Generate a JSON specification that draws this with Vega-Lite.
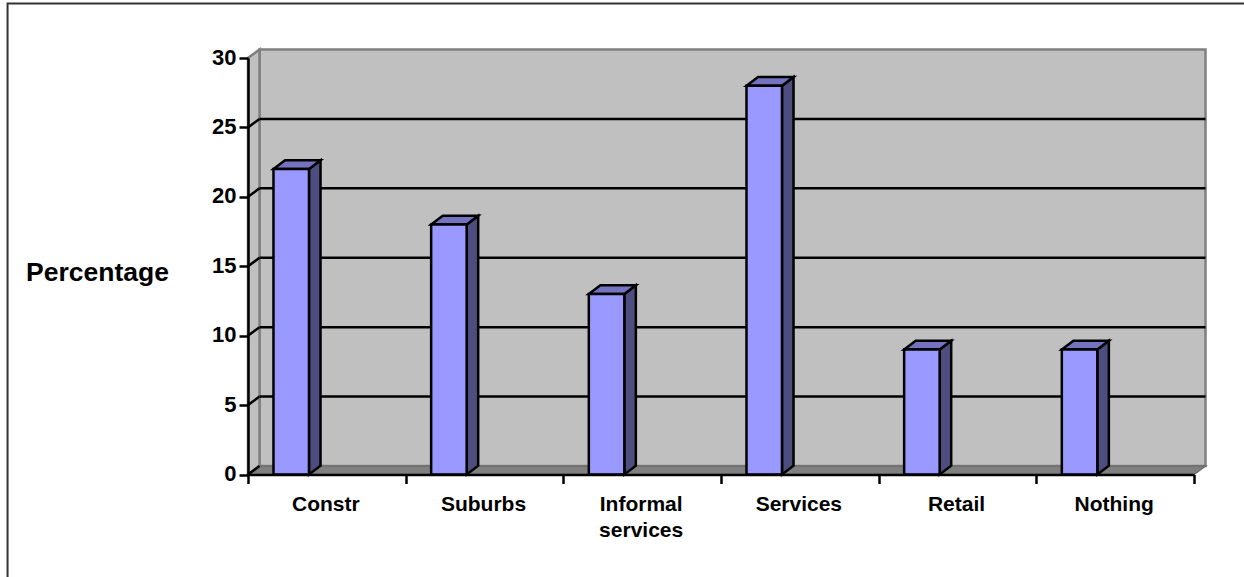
{
"$schema":"https://vega.github.io/schema/vega-lite/v6.json",
"width":946,"height":416.5,
"autosize":"none",
"padding":{"left":248,"top":58,"right":50,"bottom":102.5},
"background":"white",
"config":{"font":"Liberation Sans","view":{"stroke":null}},
"datasets":{
"cats":[{"cat":"Constr","y":22},{"cat":"Suburbs","y":18},{"cat":"Informal services","y":13},{"cat":"Services","y":28},{"cat":"Retail","y":9},{"cat":"Nothing","y":9}],
"side":[
{"cat":"Constr","x":0.387,"y":22,"y2":0},{"cat":"Constr","x":0.46,"y":22.63,"y2":0.63},
{"cat":"Suburbs","x":1.387,"y":18,"y2":0},{"cat":"Suburbs","x":1.46,"y":18.63,"y2":0.63},
{"cat":"Informal services","x":2.387,"y":13,"y2":0},{"cat":"Informal services","x":2.46,"y":13.63,"y2":0.63},
{"cat":"Services","x":3.387,"y":28,"y2":0},{"cat":"Services","x":3.46,"y":28.63,"y2":0.63},
{"cat":"Retail","x":4.387,"y":9,"y2":0},{"cat":"Retail","x":4.46,"y":9.63,"y2":0.63},
{"cat":"Nothing","x":5.387,"y":9,"y2":0},{"cat":"Nothing","x":5.46,"y":9.63,"y2":0.63}],
"top":[
{"cat":"Constr","y":22,"x":0.162,"x2":0.387},{"cat":"Constr","y":22.63,"x":0.235,"x2":0.46},
{"cat":"Suburbs","y":18,"x":1.162,"x2":1.387},{"cat":"Suburbs","y":18.63,"x":1.235,"x2":1.46},
{"cat":"Informal services","y":13,"x":2.162,"x2":2.387},{"cat":"Informal services","y":13.63,"x":2.235,"x2":2.46},
{"cat":"Services","y":28,"x":3.162,"x2":3.387},{"cat":"Services","y":28.63,"x":3.235,"x2":3.46},
{"cat":"Retail","y":9,"x":4.162,"x2":4.387},{"cat":"Retail","y":9.63,"x":4.235,"x2":4.46},
{"cat":"Nothing","y":9,"x":5.162,"x2":5.387},{"cat":"Nothing","y":9.63,"x":5.235,"x2":5.46}],
"grid":[{"v":5,"x":0.073,"x2":6.073,"y":5.61},{"v":10,"x":0.073,"x2":6.073,"y":10.61},{"v":15,"x":0.073,"x2":6.073,"y":15.61},{"v":20,"x":0.073,"x2":6.073,"y":20.61},{"v":25,"x":0.073,"x2":6.073,"y":25.61}],
"diag":[
{"v":0,"x":0,"y":0},{"v":0,"x":0.073,"y":0.61},
{"v":5,"x":0,"y":5},{"v":5,"x":0.073,"y":5.61},
{"v":10,"x":0,"y":10},{"v":10,"x":0.073,"y":10.61},
{"v":15,"x":0,"y":15},{"v":15,"x":0.073,"y":15.61},
{"v":20,"x":0,"y":20},{"v":20,"x":0.073,"y":20.61},
{"v":25,"x":0,"y":25},{"v":25,"x":0.073,"y":25.61}]
},
"resolve":{"scale":{"x":"independent"}},
"encoding":{
"x":{"field":"x","type":"quantitative","axis":null,"scale":{"domain":[0,6],"nice":false,"zero":false}},
"y":{"field":"y","type":"quantitative","scale":{"domain":[0,30],"nice":false},
"axis":{"values":[0,5,10,15,20,25,30],"grid":false,"tickSize":9,"tickWidth":2.5,"tickColor":"black","domainColor":"black","domainWidth":2.5,"labelPadding":3,"labelFontSize":22,"labelFontWeight":"bold","labelColor":"black","labelOffset":-1,"title":"Percentage","titleFontSize":26.5,"titleFontWeight":"bold","titleColor":"black","titleAngle":0,"titleX":-151,"titleY":214,"titleAlign":"center","titleBaseline":"middle","zindex":1}}
},
"layer":[
{"data":{"values":[{"x":-1.525,"x2":6.36,"y":33.93,"y2":-8.3}]},
 "mark":{"type":"rect","fill":null,"stroke":"#333","strokeWidth":2},
 "encoding":{"x2":{"field":"x2"},"y2":{"field":"y2"}}},
{"data":{"values":[{"x":0.073,"x2":6.073,"y":30.61,"y2":0.61}]},
 "mark":{"type":"rect","fill":"#c0c0c0","stroke":"#808080","strokeWidth":2.5},
 "encoding":{"x2":{"field":"x2"},"y2":{"field":"y2"}}},
{"data":{"values":[{"x":0,"y":0,"y2":30},{"x":0.073,"y":0.61,"y2":30.61}]},
 "mark":{"type":"area","fill":"#c0c0c0","stroke":"#808080","strokeWidth":2.5,"orient":"vertical"},
 "encoding":{"y2":{"field":"y2"}}},
{"data":{"values":[{"y":0,"x":0,"x2":6},{"y":0.61,"x":0.073,"x2":6.073}]},
 "mark":{"type":"area","fill":"#808080","stroke":"#6e6e6e","strokeWidth":1.5,"orient":"horizontal"},
 "encoding":{"x2":{"field":"x2"}}},
{"data":{"name":"grid"},
 "mark":{"type":"rule","stroke":"black","strokeWidth":2.5},
 "encoding":{"x2":{"field":"x2"}}},
{"data":{"name":"diag"},
 "mark":{"type":"line","stroke":"black","strokeWidth":2.5},
 "encoding":{"detail":{"field":"v"}}},
{"data":{"name":"side"},
 "mark":{"type":"area","fill":"#4d4d80","stroke":"black","strokeWidth":2.5,"orient":"vertical"},
 "encoding":{"y2":{"field":"y2"},"detail":{"field":"cat"}}},
{"data":{"name":"top"},
 "mark":{"type":"area","fill":"#7373bf","stroke":"black","strokeWidth":2.5,"orient":"horizontal"},
 "encoding":{"x2":{"field":"x2"},"detail":{"field":"cat"}}},
{"data":{"name":"cats"},
 "mark":{"type":"bar","fill":"#9999ff","stroke":"black","strokeWidth":2.5,"size":35.5,"xOffset":-35.6},
 "encoding":{
  "x":{"field":"cat","type":"nominal","sort":null,"scale":{"paddingInner":0,"paddingOuter":0},
   "axis":{"title":null,"tickBand":"extent","tickOffset":-1,"tickSize":9,"tickWidth":2.5,"tickColor":"black","domainColor":"black","domainWidth":2.5,"labelAngle":0,"labelOffset":-1.5,"labelPadding":10,"labelFontSize":21,"labelFontWeight":"bold","labelColor":"black","labelLineHeight":25.5,"labelExpr":"datum.label == 'Informal services' ? ['Informal','services'] : datum.label","zindex":1}}
 }}
]
}
